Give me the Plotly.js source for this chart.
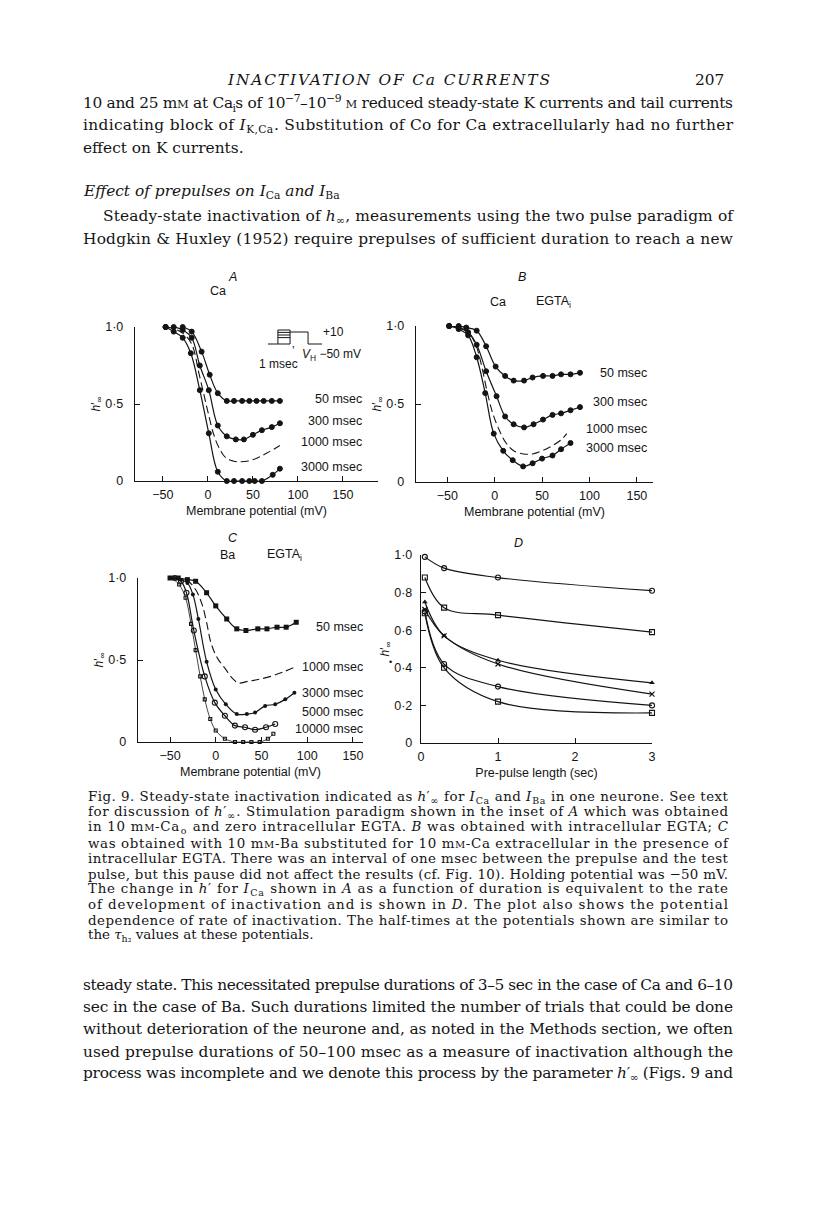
<!DOCTYPE html>
<html>
<head>
<meta charset="utf-8">
<script src="https://cdn.plot.ly/plotly-3.0.1.min.js"></script>
<style>
  html, body { margin: 0; padding: 0; background: #fff; }
  #fig { width: 816px; height: 1205px; }
</style>
</head>
<body>
<div id="fig"></div>
<script>
// Fig. 9 - steady-state inactivation h'inf (A-C) and its time course (D)

const W = 816, H = 1205;
const ink = '#141414';
const px = X => X / W;
const py = Y => 1 - Y / H;

// ---- A: Ca, no EGTA ----
const aX50 = [-47, -38, -28, -18, -7, 2, 11, 21, 29, 38, 46, 54, 62, 71, 80];
const aY50 = [1.0, 1.01, 1.0, 0.97, 0.84, 0.69, 0.57, 0.52, 0.52, 0.52, 0.52, 0.52, 0.52, 0.52, 0.52];
const aX300 = [-47, -38, -28, -18, -9, 1, 11, 21, 31, 40, 50, 60, 71, 80];
const aY300 = [1.0, 1.0, 0.98, 0.93, 0.75, 0.59, 0.36, 0.29, 0.27, 0.27, 0.30, 0.33, 0.35, 0.375];
const aX1000 = [-47, -38, -28, -18, -10, -4, 0, 6, 12, 20, 28, 35, 45, 55, 65, 80];
const aY1000 = [1.0, 0.99, 0.96, 0.89, 0.70, 0.55, 0.45, 0.31, 0.22, 0.15, 0.13, 0.125, 0.13, 0.15, 0.18, 0.23];
const aX3000 = [-47, -38, -28, -19, -9, 1, 11, 21, 29, 38, 46, 52, 60, 72, 80];
const aY3000 = [1.0, 0.97, 0.93, 0.83, 0.59, 0.31, 0.06, 0.0, 0.0, 0.0, 0.0, 0.0, 0.0, 0.04, 0.08];

// ---- B: Ca, EGTAi ----
const bX50 = [-48, -38, -30, -19, -9, 1, 11, 20, 31, 40, 51, 61, 70, 80, 90];
const bY50 = [1.0, 1.0, 0.99, 0.97, 0.87, 0.74, 0.68, 0.65, 0.65, 0.67, 0.68, 0.68, 0.69, 0.69, 0.70];
const bX300 = [-48, -38, -28, -19, -9, 2, 11, 20, 31, 41, 51, 61, 70, 80, 90];
const bY300 = [1.0, 0.99, 0.96, 0.88, 0.71, 0.55, 0.42, 0.37, 0.35, 0.37, 0.40, 0.43, 0.44, 0.46, 0.48];
const bX1000 = [-48, -38, -28, -20, -14, -8, -2, 5, 12, 20, 30, 40, 50, 60, 70, 76];
const bY1000 = [1.0, 0.99, 0.96, 0.88, 0.75, 0.58, 0.44, 0.33, 0.25, 0.20, 0.18, 0.18, 0.20, 0.23, 0.27, 0.31];
const bX3000 = [-48, -38, -28, -19, -10, -1, 9, 19, 30, 40, 50, 61, 70, 80];
const bY3000 = [1.0, 0.98, 0.94, 0.80, 0.57, 0.31, 0.20, 0.14, 0.10, 0.12, 0.15, 0.17, 0.21, 0.25];

// ---- C: Ba, EGTAi ----
const cX50 = [-50, -41, -31, -22, -10, 0, 12, 23, 33, 46, 56, 67, 77, 88];
const cY50 = [1.0, 1.0, 0.99, 0.98, 0.91, 0.83, 0.75, 0.69, 0.68, 0.69, 0.69, 0.70, 0.70, 0.73];
const cX1000 = [-45, -38, -30, -22, -15, -10, -5, 2, 10, 18, 25, 35, 45, 60, 75, 88];
const cY1000 = [1.0, 1.0, 0.98, 0.93, 0.84, 0.73, 0.60, 0.51, 0.45, 0.39, 0.36, 0.37, 0.38, 0.40, 0.43, 0.46];
const cX3000 = [-45, -38, -31, -25, -19, -10, 0, 11, 23, 34, 43, 54, 65, 76, 86];
const cY3000 = [1.0, 0.99, 0.97, 0.90, 0.75, 0.49, 0.32, 0.23, 0.17, 0.17, 0.18, 0.22, 0.23, 0.26, 0.30];
const cX5000 = [-45, -38, -32, -24, -12, -1, 10, 21, 32, 43, 55, 65];
const cY5000 = [1.0, 0.98, 0.91, 0.68, 0.40, 0.24, 0.16, 0.10, 0.09, 0.075, 0.09, 0.11];
const cX10000 = [-48, -40, -33, -27, -22, -17, -12, -6, 0, 10, 21, 30, 39, 48, 57, 63];
const cY10000 = [1.0, 0.96, 0.88, 0.72, 0.56, 0.40, 0.26, 0.14, 0.07, 0.02, 0.0, 0.0, 0.0, 0.0, 0.02, 0.05];

// ---- D: h' vs prepulse length ----
const dT = [0.05, 0.3, 1, 3];
const dM20 = [0.99, 0.93, 0.88, 0.81];
const dM10 = [0.88, 0.72, 0.68, 0.59];
const d0 = [0.75, 0.57, 0.44, 0.32];
const dP80 = [0.71, 0.57, 0.42, 0.26];
const dP10 = [0.70, 0.42, 0.30, 0.20];
const dP50 = [0.69, 0.40, 0.22, 0.16];

// ---- inset of A: pulse paradigm ----
const prepulseLevels = [20, 8, -5, -18, -50];
const prepulseT = [2.2, 4.9];
const holdT = [0, 2.2];
const testT = [4.9, 8.9, 8.9, 12];
const testV = [10, 10, -50, -50];
const holdV = -50;

// ticks
const potTicks = [-50, 0, 50, 100, 150];
const potTickText = ['\u221250', '0', '50', '100', '150'];
const hTicks = [0, 0.5, 1];
const hTickText = ['0', '0\u00b75', '1\u00b70'];
const dYTicks = [0, 0.2, 0.4, 0.6, 0.8, 1];
const dYTickText = ['0', '0\u00b72', '0\u00b74', '0\u00b76', '0\u00b78', '1\u00b70'];
const dXTicks = [0, 1, 2, 3];

const hLabel = '<i>h</i>\u2032<sub>\u221e</sub>';
const sans = 'Liberation Sans, Arial, sans-serif';
const serif = 'DejaVu Serif, serif';

function axName(n, k) { return n === 1 ? k : k + n; }

function curve(x, y, n, opts) {
  const t = {
    x: x, y: y, xaxis: axName(n, 'x'), yaxis: axName(n, 'y'),
    type: 'scatter', mode: 'lines+markers',
    line: { color: ink, width: 1.2, shape: 'spline', smoothing: 1 },
    marker: { color: ink, size: 5, symbol: 'circle', line: { color: ink, width: 1 } },
    cliponaxis: false, showlegend: false, hoverinfo: 'skip'
  };
  return Object.assign(t, opts || {});
}
const dashed = { mode: 'lines', line: { color: ink, width: 1.1, dash: '8px,4px', shape: 'spline', smoothing: 1 } };
// open symbols take their outline colour from marker.color
const openMk = (sym, size) => ({ color: ink, size: size || 5, symbol: sym, line: { color: ink, width: 1.1 } });

const traces = [
  curve(aX50, aY50, 1), curve(aX300, aY300, 1), curve(aX1000, aY1000, 1, dashed), curve(aX3000, aY3000, 1),
  curve(bX50, bY50, 2), curve(bX300, bY300, 2), curve(bX1000, bY1000, 2, dashed), curve(bX3000, bY3000, 2),
  curve(cX50, cY50, 3, { marker: { color: ink, size: 5, symbol: 'square' } }),
  curve(cX1000, cY1000, 3, dashed),
  curve(cX3000, cY3000, 3, { marker: { color: ink, size: 4 } }),
  curve(cX5000, cY5000, 3, { marker: openMk('circle-open', 5) }),
  curve(cX10000, cY10000, 3, { line: { color: ink, width: 0.8, shape: 'spline' }, marker: openMk('square-open', 3) }),
  curve(dT, dM20, 4, { marker: openMk('circle-open', 5) }),
  curve(dT, dM10, 4, { marker: openMk('square-open', 5) }),
  curve(dT, d0, 4, { marker: { color: ink, size: 5, symbol: 'triangle-up' } }),
  curve(dT, dP80, 4, { marker: { color: ink, size: 5, symbol: 'x-thin', line: { color: ink, width: 1.2 } } }),
  curve(dT, dP10, 4, { marker: openMk('circle-open', 5) }),
  curve(dT, dP50, 4, { marker: openMk('square-open', 5) })
];

// inset: build segments from the arrays above
const insT = [], insV = [];
prepulseLevels.forEach(v => { insT.push(prepulseT[0], prepulseT[1], null); insV.push(v, v, null); });
prepulseT.forEach(t => { insT.push(t, t, null); insV.push(holdV, prepulseLevels[0], null); });
insT.push(holdT[0], holdT[1], null); insV.push(holdV, holdV, null);
testT.forEach((t, i) => { insT.push(t); insV.push(testV[i]); });
traces.push({
  x: insT, y: insV, xaxis: 'x5', yaxis: 'y5', type: 'scatter', mode: 'lines',
  line: { color: ink, width: 1 }, connectgaps: false, showlegend: false, hoverinfo: 'skip'
});

function baseAxis(extra) {
  return Object.assign({
    showline: true, linecolor: ink, linewidth: 1.2, mirror: false,
    ticks: 'inside', ticklen: 5, tickwidth: 1, tickcolor: ink,
    showgrid: false, zeroline: false, tickmode: 'array', fixedrange: true,
    tickfont: { family: sans, size: 12.5, color: ink }, automargin: false
  }, extra);
}
function potAxis(x0, x1, range, anchor) {
  return baseAxis({
    domain: [px(x0), px(x1)], range: range, anchor: anchor,
    tickvals: potTicks, ticktext: potTickText, ticklabelstandoff: 2,
    title: { text: 'Membrane potential (mV)', font: { family: sans, size: 12.5, color: ink }, standoff: 5 }
  });
}
function hAxis(y0, y1, anchor, vals, text, off) {
  return baseAxis({
    domain: [py(y0), py(y1)], range: [0, 1], anchor: anchor,
    tickvals: vals, ticktext: text, ticklabelstandoff: off,
    title: { text: hLabel, font: { family: sans, size: 12, color: ink }, standoff: 2 }
  });
}

// text blocks
const bodyFont = { family: serif, size: 15.4, color: ink };
const capFont = { family: serif, size: 13.4, color: ink };
const sc = (s, f) => '<span style="font-size:' + f + 'px">' + s + '</span>';

const topLines = [
  '10 and 25 m' + sc('M', 11.5) + ' at Ca<sub>i</sub>s of 10<sup>\u22127</sup>\u201310<sup>\u22129</sup> ' + sc('M', 11.5) + ' reduced steady-state K currents and tail currents',
  'indicating block of <i>I</i><sub>K,Ca</sub>. Substitution of Co for Ca extracellularly had no further',
  'effect on K currents.'
];
const topY = [103, 126, 148];
const heading = '<i>Effect of prepulses on I</i><sub>Ca</sub><i> and I</i><sub>Ba</sub>';
const para2 = [
  'Steady-state inactivation of <i>h</i><sub>\u221e</sub>, measurements using the two pulse paradigm of',
  'Hodgkin &amp; Huxley (1952) require prepulses of sufficient duration to reach a new'
];
const para2Y = [217, 239];
const capLines = [
  'Fig. 9. Steady-state inactivation indicated as <i>h</i>\u2032<sub>\u221e</sub> for <i>I</i><sub>Ca</sub> and <i>I</i><sub>Ba</sub> in one neurone. See text',
  'for discussion of <i>h</i>\u2032<sub>\u221e</sub>. Stimulation paradigm shown in the inset of <i>A</i> which was obtained',
  'in 10 m' + sc('M', 10) + '-Ca<sub>o</sub> and zero intracellular EGTA. <i>B</i> was obtained with intracellular EGTA; <i>C</i>',
  'was obtained with 10 m' + sc('M', 10) + '-Ba substituted for 10 m' + sc('M', 10) + '-Ca extracellular in the presence of',
  'intracellular EGTA. There was an interval of one msec between the prepulse and the test',
  'pulse, but this pause did not affect the results (cf. Fig. 10). Holding potential was \u221250 mV.',
  'The change in <i>h</i>\u2032 for <i>I</i><sub>Ca</sub> shown in <i>A</i> as a function of duration is equivalent to the rate',
  'of development of inactivation and is shown in <i>D</i>. The plot also shows the potential',
  'dependence of rate of inactivation. The half-times at the potentials shown are similar to',
  'the <i>\u03c4</i><sub>h\u2082</sub> values at these potentials.'
];
const capY0 = 797, capStep = 15.4;
const bottomLines = [
  'steady state. This necessitated prepulse durations of 3\u20135 sec in the case of Ca and 6\u201310',
  'sec in the case of Ba. Such durations limited the number of trials that could be done',
  'without deterioration of the neurone and, as noted in the Methods section, we often',
  'used prepulse durations of 50\u2013100 msec as a measure of inactivation although the',
  'process was incomplete and we denote this process by the parameter <i>h</i>\u2032<sub>\u221e</sub> (Figs. 9 and'
];
const bottomY = [985, 1007, 1029, 1052, 1074];

const annotations = [];
const justWidth = [];
function textLine(text, X, Y, font, width, anchor) {
  annotations.push({
    text: text, xref: 'paper', yref: 'paper', x: px(X), y: py(Y),
    xanchor: anchor || 'left', yanchor: 'middle', align: anchor === 'right' ? 'right' : 'left',
    showarrow: false, font: font, borderpad: 0, borderwidth: 0
  });
  justWidth.push(width || 0);
}
function dataLabel(text, n, x, y, anchor, size) {
  annotations.push({
    text: text, xref: axName(n, 'x'), yref: axName(n, 'y'), x: x, y: y,
    xanchor: anchor || 'right', yanchor: 'middle', showarrow: false,
    font: { family: sans, size: size || 12.5, color: ink }, borderpad: 0, borderwidth: 0
  });
  justWidth.push(0);
}

// page text
textLine('<i>INACTIVATION OF Ca CURRENTS</i>', 227, 80, bodyFont, 322);
textLine('207', 724, 80, bodyFont, 0, 'right');
textLine(topLines[0], 83, topY[0], bodyFont, 650);
textLine(topLines[1], 83, topY[1], bodyFont, 650);
textLine(topLines[2], 83, topY[2], bodyFont);
textLine(heading, 83, 192, bodyFont);
textLine(para2[0], 103, para2Y[0], bodyFont, 630);
textLine(para2[1], 83, para2Y[1], bodyFont, 650);
capLines.forEach((s, i) => textLine(s, 88, capY0 + i * capStep, capFont, i < capLines.length - 1 ? 640 : 0));
bottomLines.forEach((s, i) => textLine(s, 83, bottomY[i], bodyFont, 650));

// panel headers
const hdr = { family: sans, size: 12.5, color: ink };
textLine('<i>A</i>', 232, 277, hdr, 0, 'center');
textLine('Ca', 218, 291, hdr, 0, 'center');
textLine('<i>B</i>', 522, 277, hdr, 0, 'center');
textLine('Ca', 498, 302, hdr, 0, 'center');
textLine('EGTA<sub>i</sub>', 553, 302, hdr, 0, 'center');
textLine('<i>C</i>', 233, 538, hdr, 0, 'center');
textLine('Ba', 227, 555, hdr, 0, 'center');
textLine('EGTA<sub>i</sub>', 284, 555, hdr, 0, 'center');
textLine('<i>D</i>', 518, 543, hdr, 0, 'center');
textLine('\u2022', 390, 662, { family: sans, size: 9, color: ink }, 0, 'center');

// inset labels
const small = { family: sans, size: 12, color: ink };
textLine('+10', 323, 332, small);
textLine('<i>V</i><sub>H</sub> \u221250 mV', 302, 355, small);
textLine('1 msec', 298, 364, small, 0, 'right');
textLine('\u02bc', 293, 351, small, 0, 'center');

// curve labels
dataLabel('50 msec', 1, 171, 0.53); dataLabel('300 msec', 1, 171, 0.39);
dataLabel('1000 msec', 1, 171, 0.25); dataLabel('3000 msec', 1, 171, 0.09);
dataLabel('50 msec', 2, 161, 0.70); dataLabel('300 msec', 2, 161, 0.51);
dataLabel('1000 msec', 2, 161, 0.34); dataLabel('3000 msec', 2, 161, 0.22);
dataLabel('50 msec', 3, 161, 0.70); dataLabel('1000 msec', 3, 161, 0.46);
dataLabel('3000 msec', 3, 161, 0.30); dataLabel('5000 msec', 3, 161, 0.18);
dataLabel('10000 msec', 3, 161, 0.08);
dataLabel('\u221220 mV', 4, 3.73, 0.81); dataLabel('\u221210 mV', 4, 3.73, 0.60);
dataLabel('0 mV', 4, 3.73, 0.35); dataLabel('+80 mV', 4, 3.73, 0.27);
dataLabel('+10 mV', 4, 3.73, 0.21); dataLabel('+50 mV', 4, 3.73, 0.155);

const layout = {
  width: W, height: H, margin: { l: 0, r: 0, t: 0, b: 0 },
  paper_bgcolor: '#fff', plot_bgcolor: 'rgba(0,0,0,0)', showlegend: false,
  font: { family: sans, color: ink },
  xaxis: potAxis(135, 378, [-81, 189], 'y'),
  yaxis: hAxis(481, 327, 'x', hTicks, hTickText, 8),
  xaxis2: potAxis(416, 653, [-83, 167], 'y2'),
  yaxis2: hAxis(482, 326, 'x2', hTicks, hTickText, 8),
  xaxis3: potAxis(138, 363, [-85, 161], 'y3'),
  yaxis3: hAxis(742, 578, 'x3', hTicks, hTickText, 8),
  xaxis4: baseAxis({
    domain: [px(421), px(652)], range: [0, 3], anchor: 'y4', tickvals: dXTicks, ticklabelstandoff: 2,
    title: { text: 'Pre-pulse length (sec)', font: { family: sans, size: 12.5, color: ink }, standoff: 5 }
  }),
  yaxis4: hAxis(743, 555, 'x4', dYTicks, dYTickText, 5),
  xaxis5: { domain: [px(268), px(322)], range: [0, 12], anchor: 'y5', visible: false, fixedrange: true },
  yaxis5: { domain: [py(346), py(328)], range: [-60, 30], anchor: 'x5', visible: false, fixedrange: true },
  annotations: annotations
};

Plotly.newPlot('fig', traces, layout, { staticPlot: true }).then(gd => {
  // justified lines: stretch to the column width
  gd.querySelectorAll('g.annotation').forEach(g => {
    const i = +g.getAttribute('data-index');
    const w = justWidth[i];
    const t = g.querySelector('text.annotation-text');
    if (w && t) {
      t.setAttribute('textLength', w);
      t.setAttribute('lengthAdjust', 'spacing');
    }
  });
});
</script>
</body>
</html>
